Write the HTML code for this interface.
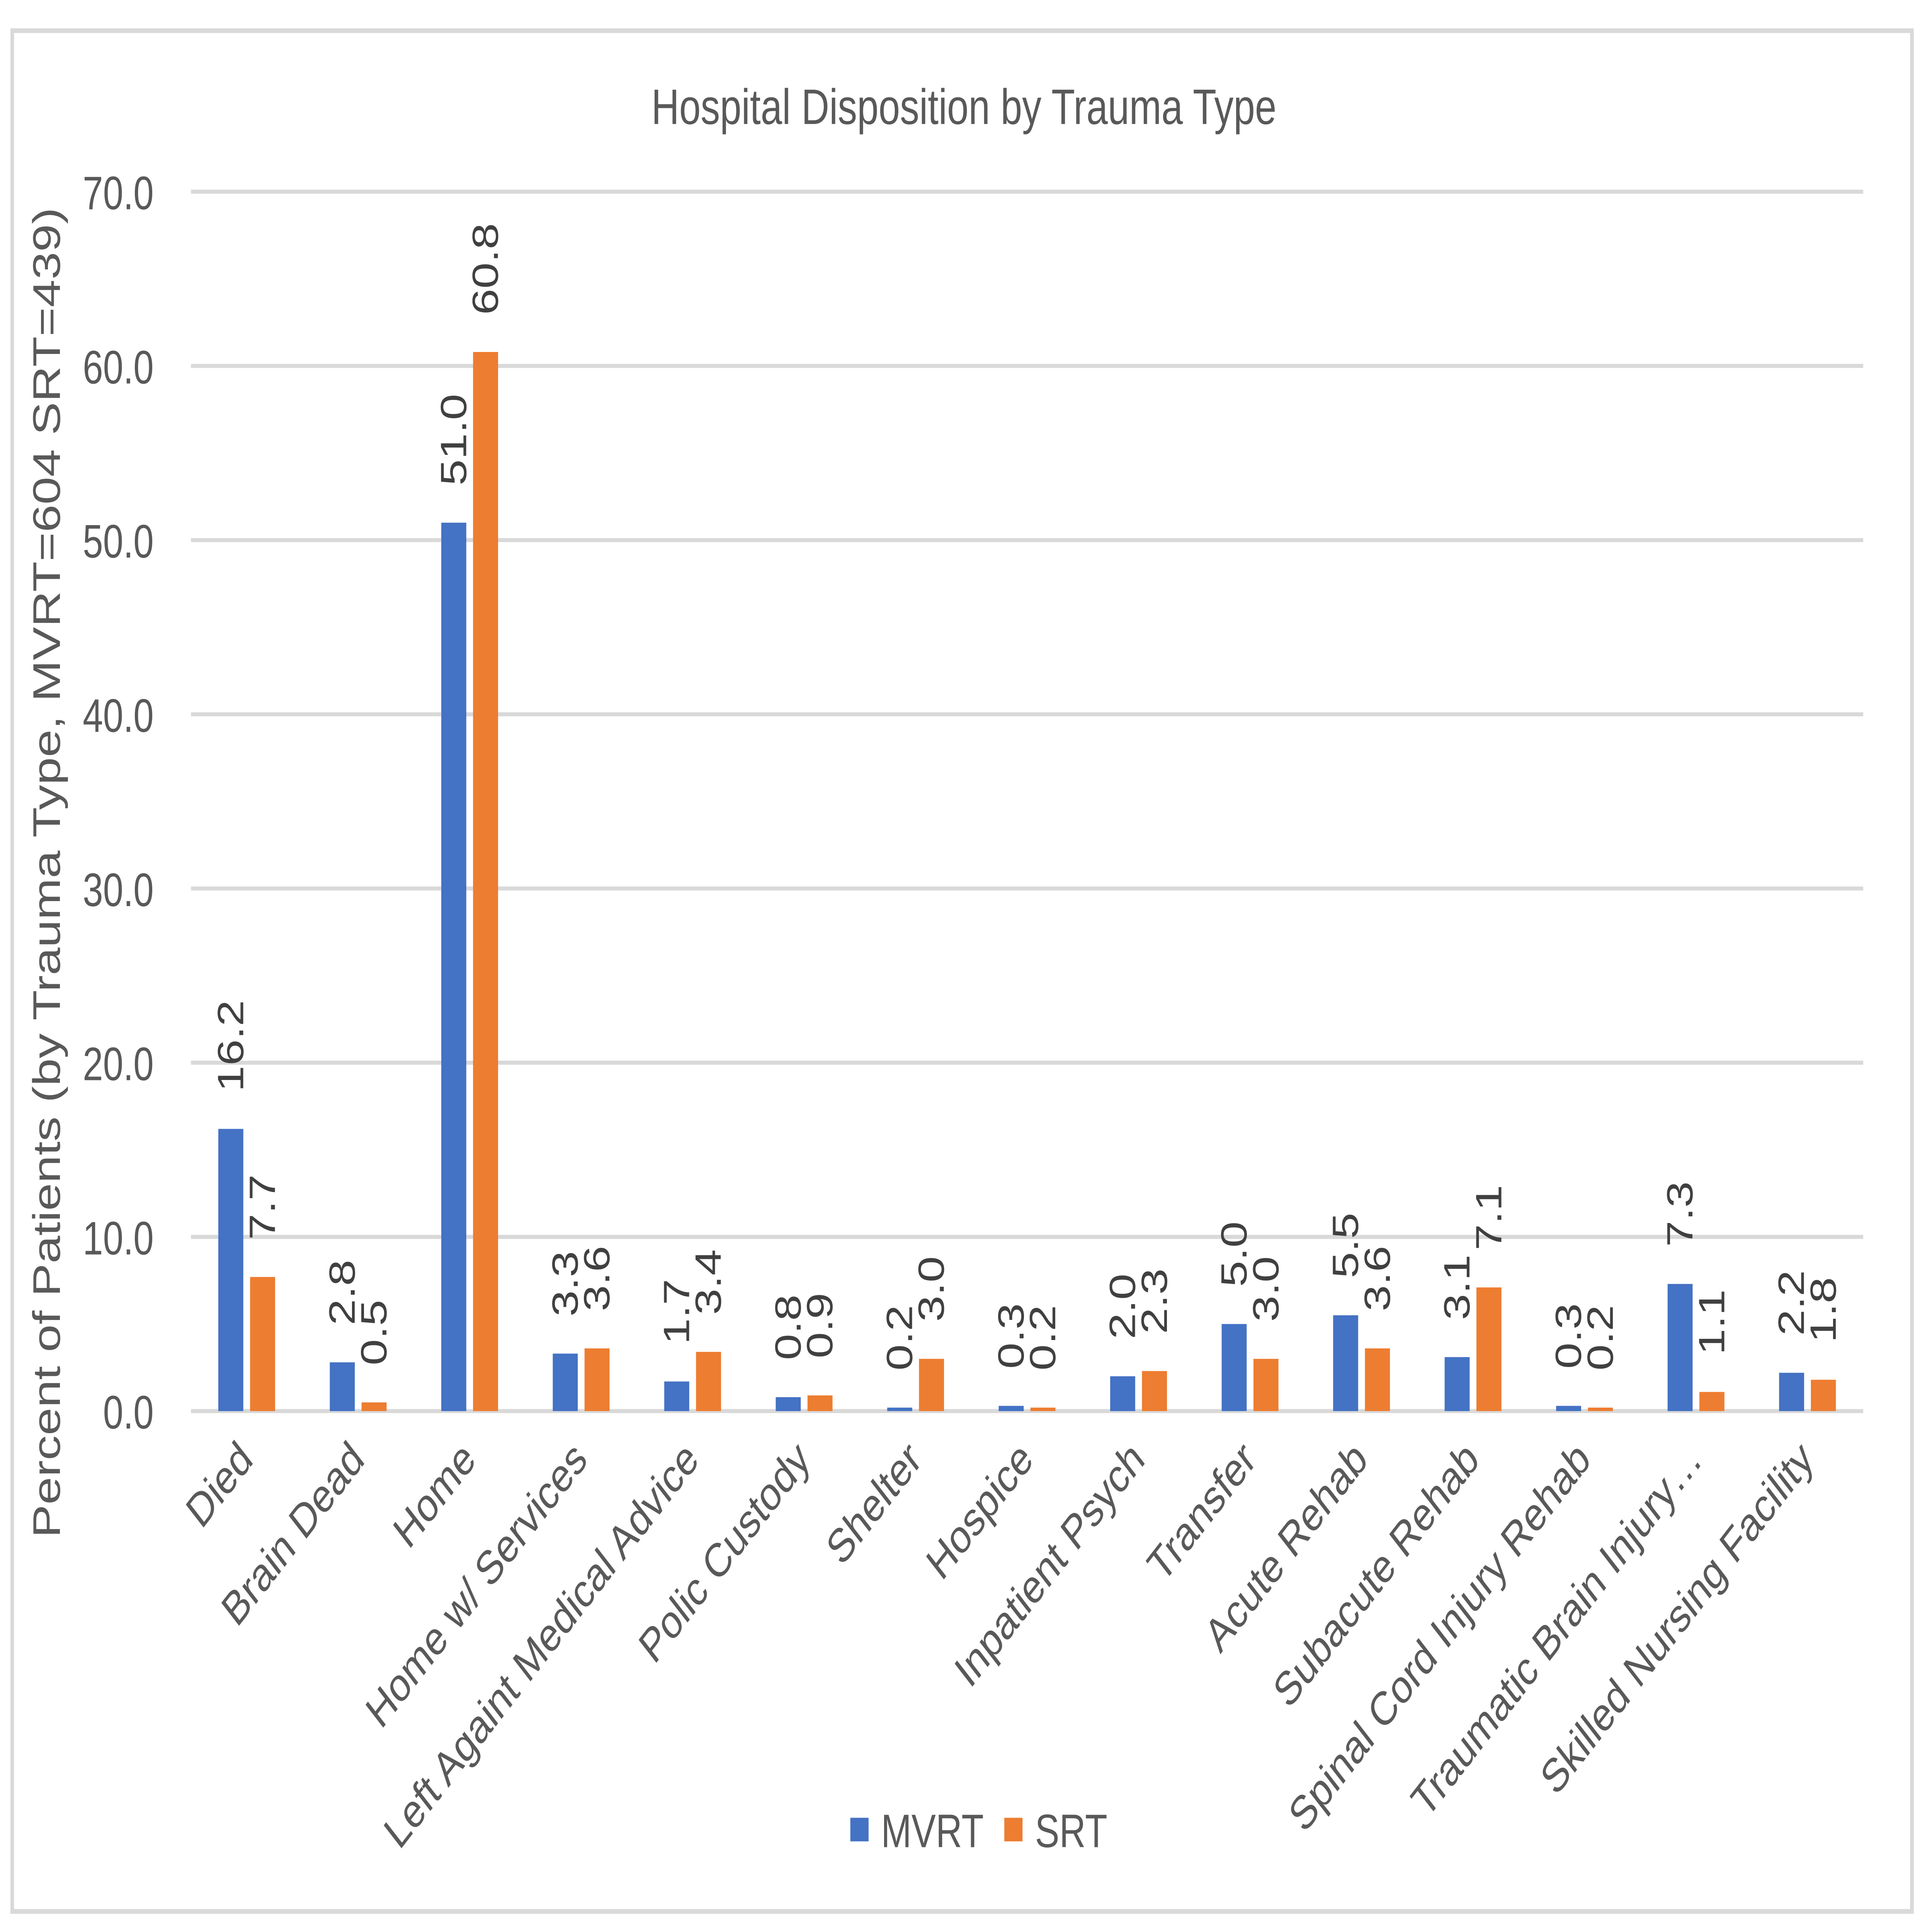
<!DOCTYPE html>
<html><head><meta charset="utf-8"><style>
html,body{margin:0;padding:0;background:#fff;width:100%;height:100%;overflow:hidden;}
svg{display:block;width:100vw;height:100vh;font-family:"Liberation Sans",sans-serif;}
</style></head><body>
<svg id="chart" xmlns="http://www.w3.org/2000/svg" viewBox="0 0 7416 5734" preserveAspectRatio="none">
<rect x="47" y="91" width="7292" height="5582" fill="#fff" stroke="#D9D9D9" stroke-width="14"/>
<text x="3700" y="368" font-size="148" fill="#595959" text-anchor="middle">Hospital Disposition by Trauma Type</text>
<text transform="translate(230,2590) rotate(-90)" font-size="148" fill="#595959" text-anchor="middle">Percent of Patients (by Trauma Type, MVRT=604 SRT=439)</text>
<g id="grid"></g><g id="bars"></g><g id="labels"></g>
<g>
<rect x="3264" y="5395" width="70" height="70" fill="#4472C4"/>
<text x="3382" y="5482" font-size="140" fill="#595959">MVRT</text>
<rect x="3855" y="5395" width="70" height="70" fill="#ED7D31"/>
<text x="3973" y="5482" font-size="140" fill="#595959">SRT</text>
</g>
</svg>
<script>
const categories = ["Died","Brain Dead","Home","Home w/ Services","Left Againt Medical Advice","Polic Custody","Shelter","Hospice","Inpatient Psych","Transfer","Acute Rehab","Subacute Rehab","Spinal Cord Injury Rehab","Traumatic Brain Injury…","Skilled Nursing Facility"];
const mvrt = [16.2,2.8,51.0,3.3,1.7,0.8,0.2,0.3,2.0,5.0,5.5,3.1,0.3,7.3,2.2];
const srt = [7.7,0.5,60.8,3.6,3.4,0.9,3.0,0.2,2.3,3.0,3.6,7.1,0.2,1.1,1.8];
const yTicks = [0,10,20,30,40,50,60,70];
const NS="http://www.w3.org/2000/svg";
const X0=733,X1=7152,Y0=4188,PER=51.7;
const step=(X1-X0)/categories.length;
const yS=v=>Y0-v*PER;
const xC=i=>X0+step*(i+0.5);
function mk(tag,attrs,parent,txt){const e=document.createElementNS(NS,tag);for(const k in attrs)e.setAttribute(k,attrs[k]);if(txt!==undefined)e.textContent=txt;parent.appendChild(e);return e;}
const grid=document.getElementById('grid'),bars=document.getElementById('bars'),labels=document.getElementById('labels');
yTicks.forEach(t=>{
  const l=mk('line',{x1:X0,x2:X1,y1:yS(t),y2:yS(t),stroke:'#D9D9D9','stroke-width':12},grid);
  
  
  const tx=mk('text',{x:590,y:yS(t)+52,'font-size':140,fill:'#595959','text-anchor':'end'},grid,t.toFixed(1));
  
  
});
const BW=96,GAP=26;
categories.forEach((c,i)=>{
  const cx=xC(i);
  [[mvrt,'#4472C4',cx-GAP/2-BW,'mvrt'],[srt,'#ED7D31',cx+GAP/2,'srt']].forEach(([arr,col,x,nm])=>{
    const v=arr[i];
    const r=mk('rect',{x:x,y:yS(v),width:BW,height:Y0-yS(v),fill:col},bars);
    
    
    const lx=x+BW/2, ly=yS(v)-110;
    const t=mk('text',{x:0,y:0,transform:`translate(${lx},${ly}) rotate(-90)`,'font-size':140,fill:'#404040','dominant-baseline':'central'},labels,v.toFixed(1));
    
    
  });
  const ct=mk('text',{x:0,y:0,transform:`translate(${cx+30},${Y0+150}) rotate(-45)`,'font-size':140,fill:'#595959','text-anchor':'end'},labels,c);
  
  
});
</script>
</body></html>
